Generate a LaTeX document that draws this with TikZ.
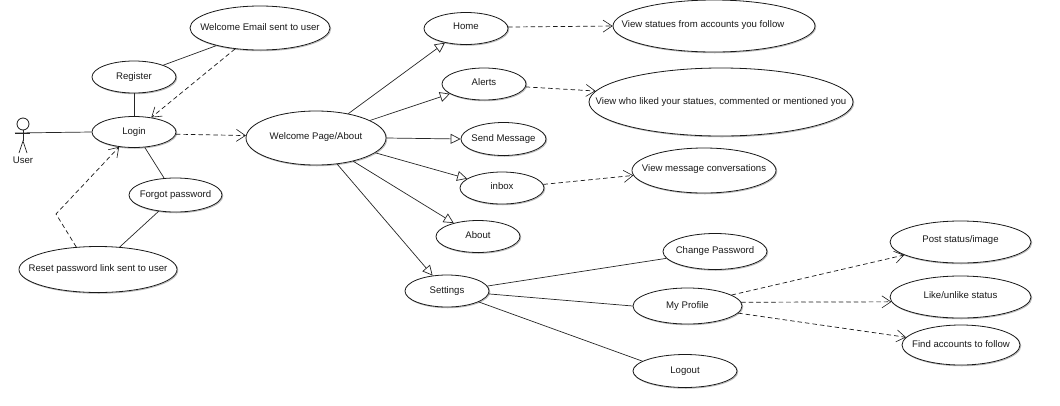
\documentclass[tikz,border=0pt]{standalone}
\usepackage{fontspec}
\setmainfont{Liberation Sans}
\usetikzlibrary{arrows.meta,shapes.geometric}
\newcommand{\up}[2]{\raisebox{#1pt}[0pt][0pt]{\makebox[0pt][c]{#2}}}
\tikzset{
  x=1pt,y=-1pt,
  uc/.style={preaction={draw=black!28,line width=0.9pt,transform canvas={shift={(0.8pt,-0.8pt)}}},draw=black!90,fill=white,line width=0.8pt,ellipse,inner sep=0pt,font=\fontsize{9.6pt}{11pt}\selectfont,text=black!90},
  assoc/.style={draw=black!85,line width=0.7pt},
  gen/.style={assoc,-{Triangle[open,length=10pt,width=10pt,fill=white]}},
  dep/.style={draw=black!90,line width=0.7pt,dash pattern=on 4.5pt off 3pt,-{Straight Barb[length=9pt,width=12pt,line width=0.6pt]}},
}
\newcommand{\uc}[6]{\node[uc,minimum width=#4pt,minimum height=#5pt] (#1) at (#2,#3) {#6};}
\begin{document}
\begin{tikzpicture}
\useasboundingbox (0,0) rectangle (1060,405);
\uc{email}{260}{28}{140}{44}{\up{-2}{Welcome Email sent to user}}
\uc{reg}{134}{77}{84}{32}{\up{-2}{Register}}
\uc{login}{134}{132}{84}{31}{\up{-2}{Login}}
\uc{forgot}{175.5}{195}{93}{34}{\up{-2}{Forgot password}}
\uc{reset}{98}{269.5}{158}{46}{\up{-2}{Reset password link sent to user}}
\uc{welcome}{316}{138}{140}{54}{\up{-1.5}{Welcome Page/About}}
\uc{home}{466}{28.5}{84}{32}{\up{-1}{Home}}
\uc{alerts}{484}{84}{84}{32}{\up{-1}{Alerts}}
\uc{send}{503.5}{139}{85}{33}{\up{-2}{Send Message}}
\uc{inbox}{502}{188}{84}{32}{\up{-1.5}{inbox}}
\uc{about}{478}{236.5}{84}{32}{\up{-1.5}{About}}
\uc{settings}{447}{291}{84}{32}{\up{-2}{Settings}}
\uc{statues}{714}{26}{202}{52}{\up{-1}{View statues from accounts you follow\kern22pt}}
\uc{who}{721}{102}{264}{68}{\up{-2}{View who liked your statues, commented or mentioned you}}
\uc{msg}{704}{170.5}{144}{45}{\up{-1}{View message conversations}}
\uc{change}{715}{251.5}{104}{36}{\up{-2}{Change Password}}
\uc{profile}{687.5}{306}{109}{36}{\up{-2}{My Profile}}
\uc{logout}{685}{371}{104}{33}{\up{-2}{Logout}}
\uc{post}{960.5}{242}{141}{42}{\up{0}{Post status/image}}
\uc{like}{960.5}{297}{141}{42}{\up{-1}{Like/unlike status}}
\uc{find}{961}{345}{118}{40}{\up{-2}{Find accounts to follow}}
% actor
\coordinate (hip) at (23,141);
\node[draw=black!90,line width=0.8pt,circle,minimum size=12pt,inner sep=0pt] (head) at (23,124) {};
\node[font=\fontsize{9.6pt}{11pt}\selectfont,text=black!90,inner sep=0pt] (user) at (23,160) {User};
\coordinate (armL) at (15,133);
\coordinate (armR) at (30,133);
\coordinate (legL) at (19,153);
\coordinate (legR) at (27,153);
\draw[assoc] (head.south) -- (hip);
\draw[assoc] (armL) -- (armR);
\draw[assoc] (legL) -- (hip) -- (legR);
\draw[assoc] (armL) -- (login.180);
% left
\draw[assoc] (email.202) -- (reg.22.5);
\draw[assoc] (reg.south) -- (login.north);
\draw[assoc] (login.-55) -- (forgot.124);
\draw[assoc] (forgot.224) -- (reset.46);
\coordinate (bend) at (56,214);
\draw[dep] (email.220) -- (login.40);
\draw[dep] (reset.134) -- (bend) -- (login.225);
\draw[dep] (login.-3) -- (welcome.178);
% generalisations
\draw[gen] (welcome.37) -- (home.214);
\draw[gen] (welcome.18) -- (alerts.196);
\draw[gen] (welcome.east) -- (send.west);
\draw[gen] (welcome.-14) -- (inbox.165);
\draw[gen] (welcome.-32) -- (about.151);
\draw[gen] (welcome.-51) -- (settings.133);
% dependencies
\draw[dep] (home.2) -- (statues.180);
\draw[dep] (alerts.-4) -- (who.175);
\draw[dep] (inbox.5) -- (msg.184);
\draw[assoc] (settings.7) -- (change.188);
\draw[assoc] (settings.-4) -- (profile.west);
\draw[assoc] (settings.-19) -- (logout.167);
\draw[dep] (profile.14) -- (post.193);
\draw[dep] (profile.4) -- (like.184);
\draw[dep] (profile.-8) -- (find.172);
\end{tikzpicture}
\end{document}
